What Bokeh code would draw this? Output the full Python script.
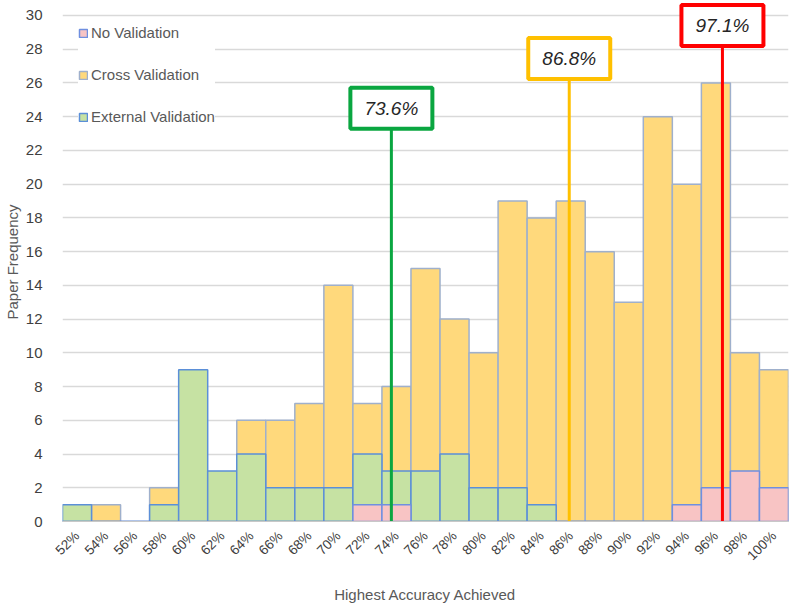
import math
from bokeh.plotting import figure
from bokeh.models import FixedTicker, Range1d, Legend, LegendItem, ColumnDataSource
from bokeh.core.properties import value
from bokeh.embed import file_html
from bokeh.resources import INLINE

# ---- data ----
bins = [52, 54, 56, 58, 60, 62, 64, 66, 68, 70, 72, 74, 76, 78, 80, 82, 84, 86, 88, 90, 92, 94, 96, 98, 100]
tick_labels = [f"{b}%" for b in bins]
cross_validation = [0, 1, 0, 2, 0, 0, 6, 6, 7, 14, 7, 8, 15, 12, 10, 19, 18, 19, 16, 13, 24, 20, 26, 10, 9]
external_validation = [1, 0, 0, 1, 9, 3, 4, 2, 2, 2, 4, 3, 3, 4, 2, 2, 1, 0, 0, 0, 0, 0, 0, 0, 0]
no_validation = [0, 0, 0, 0, 0, 0, 0, 0, 0, 0, 1, 1, 0, 0, 0, 0, 0, 0, 0, 0, 0, 1, 2, 3, 2]

marker_labels = ["73.6%", "86.8%", "97.1%"]
marker_pos = [73.65, 85.9, 96.45]      # drawn positions
marker_box_y = [24.5, 27.45, 29.4]
marker_colors = ["#0aa640", "#ffc000", "#ff0000"]

FONT = "Liberation Sans"

p = figure(frame_width=726, frame_height=519, output_backend="svg", toolbar_location=None,
           x_range=Range1d(51, 101), y_range=Range1d(0, 30.77))
p.min_border_left = 56
p.min_border_right = 2
p.min_border_top = 2
p.min_border_bottom = 75
p.outline_line_color = None
p.background_fill_color = "white"

lefts = [b - 1 for b in bins]
rights = [b + 1 for b in bins]

src = ColumnDataSource(dict(left=lefts, right=rights, cv=cross_validation,
                            ev=external_validation, nv=no_validation))
r_cv = p.quad(left="left", right="right", bottom=0, top="cv", source=src,
              fill_color="#ffd97c", line_color="#9fb0cc", line_width=1.5)
r_ev = p.quad(left="left", right="right", bottom=0, top="ev", source=src,
              fill_color="#c6e2a3", line_color="#5b8fd8", line_width=1.5)
r_nv = p.quad(left="left", right="right", bottom=0, top="nv", source=src,
              fill_color="#f8c4c4", line_color="#6f8fe0", line_width=1.5)

# marker lines and boxes
box_bottom = [y - 1.25 for y in marker_box_y]
p.segment(x0=marker_pos, y0=box_bottom, x1=marker_pos, y1=[0] * 3,
          line_color=marker_colors, line_width=3)
p.rect(x=marker_pos, y=marker_box_y, width=82, height=41, width_units="screen",
       height_units="screen", fill_color="white", line_color=marker_colors, line_width=4)
p.text(x=marker_pos, y=marker_box_y, text=marker_labels, text_align="center",
       text_baseline="middle", text_font=value(FONT), text_font_size="19px",
       text_font_style="italic", text_color="#262626")

# axes
p.xaxis.ticker = FixedTicker(ticks=bins)
p.xaxis.major_label_overrides = {b: l for b, l in zip(bins, tick_labels)}
p.xaxis.major_label_orientation = math.pi / 4
p.xaxis.major_tick_line_color = None
p.xaxis.minor_tick_line_color = None
p.xaxis.axis_line_color = "#c8c8c8"
p.xaxis.major_label_text_font = FONT
p.xaxis.major_label_text_font_size = "13.5px"
p.xaxis.major_label_text_color = "#404040"
p.xaxis.major_label_standoff = 6
p.xaxis.axis_label = "Highest Accuracy Achieved"
p.xaxis.axis_label_text_font = FONT
p.xaxis.axis_label_text_font_size = "15px"
p.xaxis.axis_label_text_font_style = "normal"
p.xaxis.axis_label_text_color = "#595959"
p.xaxis.axis_label_standoff = 14

p.yaxis.ticker = FixedTicker(ticks=list(range(0, 31, 2)))
p.yaxis.major_tick_line_color = None
p.yaxis.minor_tick_line_color = None
p.yaxis.axis_line_color = None
p.yaxis.major_label_text_font = FONT
p.yaxis.major_label_text_font_size = "15px"
p.yaxis.major_label_text_color = "#404040"
p.yaxis.major_label_standoff = 14
p.yaxis.axis_label = "Paper Frequency"
p.yaxis.axis_label_text_font = FONT
p.yaxis.axis_label_text_font_size = "15px"
p.yaxis.axis_label_text_font_style = "normal"
p.yaxis.axis_label_text_color = "#595959"
p.yaxis.axis_label_standoff = 2

p.xgrid.grid_line_color = None
p.ygrid.grid_line_color = "#d9d9d9"
p.ygrid.grid_line_width = 1.5

legend = Legend(items=[
    LegendItem(label="No Validation", renderers=[r_nv]),
    LegendItem(label="Cross Validation", renderers=[r_cv]),
    LegendItem(label="External Validation", renderers=[r_ev]),
], location=(16, 396))
legend.glyph_width = 10
legend.glyph_height = 10
legend.label_text_font = FONT
legend.label_text_font_size = "15px"
legend.label_text_color = "#595959"
legend.label_standoff = 3
legend.spacing = 25
legend.padding = 4
legend.margin = 0
legend.border_line_color = None
legend.background_fill_color = "white"
legend.background_fill_alpha = 1.0
p.add_layout(legend, "center")

open("out.html", "w").write(file_html(p, INLINE))
